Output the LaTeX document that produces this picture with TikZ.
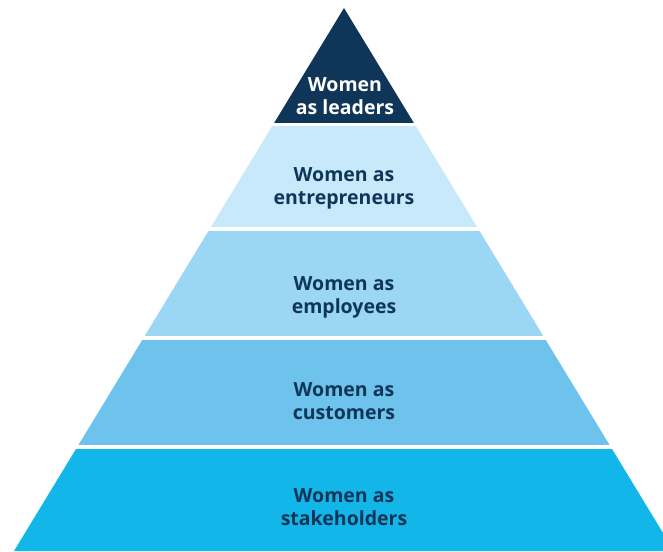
\documentclass[tikz,border=0pt]{standalone}
\usepackage{fontspec}
\setmainfont{Open Sans}
\definecolor{navy}{HTML}{0F3558}
\definecolor{lay2}{HTML}{C8E9F9}
\definecolor{lay3}{HTML}{9BD6F4}
\definecolor{lay4}{HTML}{6EC3EC}
\definecolor{lay5}{HTML}{13B6E9}
\begin{document}
\begin{tikzpicture}[x=1pt,y=-1pt,
  lbl/.style={align=center,anchor=base,font=\fontsize{19.5}{22.7}\selectfont\bfseries,text=navy,inner sep=0pt}]
\useasboundingbox (0,0) rectangle (663,551);
\clip (0,0) rectangle (663,551);
\foreach \ya/\yb/\col in {0/122/navy,126/226.5/lay2,231.5/335/lay3,340/444.5/lay4,449.5/560/lay5}{
  \begin{scope}
    \clip (0,\ya) rectangle (663,\yb);
    \fill[\col] (344,8) -- (674,551) -- (14,551) -- cycle;
  \end{scope}
}
\node[lbl,text=white] (l1) at (345,114.5) {Women\\as leaders};
\node[lbl] (l2) at (344,204) {Women as\\entrepreneurs};
\node[lbl] (l3) at (344,313.5) {Women as\\employees};
\node[lbl] (l4) at (344,419) {Women as\\customers};
\node[lbl] (l5) at (344,525) {Women as\\stakeholders};
\end{tikzpicture}
\end{document}
